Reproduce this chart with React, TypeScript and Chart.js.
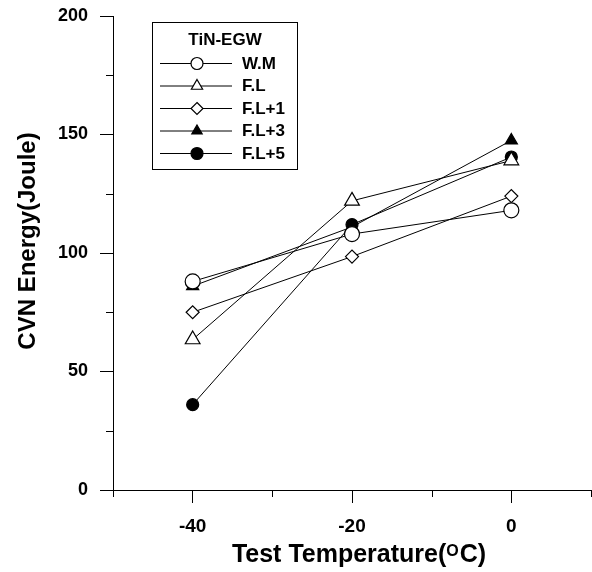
import React, { useEffect, useRef } from "react";
import { Chart, registerables } from "chart.js";

Chart.register(...registerables);

const temperatures = [-40, -20, 0];
const seriesNames = ["W.M", "F.L", "F.L+1", "F.L+3", "F.L+5"];
const wmValues = [88, 108, 118];
const flValues = [63.5, 122, 139];
const fl1Values = [75, 98.5, 124];
const fl3Values = [86, 111, 147.5];
const fl5Values = [36, 112, 140.5];
const legendTitle = "TiN-EGW";
const xMajorTicks = [-40, -20, 0];
const yMajorStep = 50;

const FONT = '"Liberation Sans", Arial, sans-serif';

type Marker = { style: string; r: number; filled: boolean; legendR: number };
const markers: Marker[] = [
  { style: "circle", r: 7.5, filled: false, legendR: 6 },
  { style: "triangle", r: 8.5, filled: false, legendR: 6.5 },
  { style: "rectRot", r: 6.5, filled: false, legendR: 6 },
  { style: "triangle", r: 7, filled: true, legendR: 6 },
  { style: "circle", r: 6, filled: true, legendR: 6 },
];

function drawMarker(ctx: CanvasRenderingContext2D, m: Marker, x: number, y: number, r: number) {
  ctx.save();
  ctx.beginPath();
  if (m.style === "circle") {
    ctx.arc(x, y, r, 0, Math.PI * 2);
  } else if (m.style === "triangle") {
    for (let i = 0; i < 3; i++) {
      const a = (i * 2 * Math.PI) / 3;
      const px = x + Math.sin(a) * r;
      const py = y - Math.cos(a) * r;
      if (i === 0) ctx.moveTo(px, py);
      else ctx.lineTo(px, py);
    }
    ctx.closePath();
  } else {
    ctx.moveTo(x, y - r);
    ctx.lineTo(x + r, y);
    ctx.lineTo(x, y + r);
    ctx.lineTo(x - r, y);
    ctx.closePath();
  }
  ctx.fillStyle = m.filled ? "#000" : "#fff";
  ctx.fill();
  ctx.lineWidth = 1.2;
  ctx.strokeStyle = "#000";
  ctx.stroke();
  ctx.restore();
}

const extrasPlugin = {
  id: "extras",
  afterDraw(chart: any) {
    const ctx: CanvasRenderingContext2D = chart.ctx;
    const xs = chart.scales.x;
    const ys = chart.scales.y;
    const area = chart.chartArea;
    ctx.save();
    // minor tick marks
    ctx.strokeStyle = "#000";
    ctx.lineWidth = 1;
    for (const v of [-50, -30, -10, 10]) {
      const px = Math.round(xs.getPixelForValue(v)) + 0.5;
      ctx.beginPath();
      ctx.moveTo(px, area.bottom);
      ctx.lineTo(px, area.bottom + 7);
      ctx.stroke();
    }
    for (let v = 25; v < 200; v += 50) {
      const py = Math.round(ys.getPixelForValue(v)) + 0.5;
      ctx.beginPath();
      ctx.moveTo(area.left, py);
      ctx.lineTo(area.left - 7, py);
      ctx.stroke();
    }

    // y title
    ctx.fillStyle = "#000";
    ctx.font = `bold 24px ${FONT}`;
    ctx.textAlign = "center";
    ctx.textBaseline = "middle";
    ctx.save();
    ctx.translate(28, 241);
    ctx.rotate(-Math.PI / 2);
    ctx.fillText("CVN Energy(Joule)", 0, 0);
    ctx.restore();

    // x title with superscript O
    const part1 = "Test Temperature(";
    const sup = "O";
    const part2 = "C)";
    ctx.textAlign = "left";
    ctx.textBaseline = "alphabetic";
    ctx.font = `bold 25px ${FONT}`;
    const w1 = ctx.measureText(part1).width;
    const w3 = ctx.measureText(part2).width;
    ctx.font = `bold 16px ${FONT}`;
    const w2 = ctx.measureText(sup).width + 1;
    const total = w1 + w2 + w3;
    let sx = 359 - total / 2;
    const base = 562;
    ctx.font = `bold 25px ${FONT}`;
    ctx.fillText(part1, sx, base);
    sx += w1;
    ctx.font = `bold 16px ${FONT}`;
    ctx.fillText(sup, sx, base - 6);
    sx += w2;
    ctx.font = `bold 25px ${FONT}`;
    ctx.fillText(part2, sx, base);

    // legend box
    const bx = 152.5, by = 22.5, bw = 145, bh = 147;
    ctx.fillStyle = "#fff";
    ctx.fillRect(bx, by, bw, bh);
    ctx.strokeStyle = "#000";
    ctx.lineWidth = 1;
    ctx.strokeRect(bx, by, bw, bh);
    ctx.fillStyle = "#000";
    ctx.font = `bold 17px ${FONT}`;
    ctx.textAlign = "center";
    ctx.textBaseline = "middle";
    ctx.fillText(legendTitle, bx + bw / 2, 40);
    ctx.textAlign = "left";
    seriesNames.forEach((name, i) => {
      const ry = 63 + i * 22.5;
      ctx.beginPath();
      ctx.moveTo(160, ry + 0.5);
      ctx.lineTo(232, ry + 0.5);
      ctx.strokeStyle = "#000";
      ctx.lineWidth = 1;
      ctx.stroke();
      drawMarker(ctx, markers[i], 197, ry + 0.5, markers[i].legendR);
      ctx.fillStyle = "#000";
      ctx.font = `bold 17px ${FONT}`;
      ctx.fillText(name, 242, ry + 1);
    });
    ctx.restore();
  },
};

export default function App() {
  const ref = useRef<HTMLCanvasElement | null>(null);
  useEffect(() => {
    if (!ref.current) return;
    const allValues = [wmValues, flValues, fl1Values, fl3Values, fl5Values];
    const datasets = allValues.map((vals, i) => ({
      label: seriesNames[i],
      data: temperatures.map((t, j) => ({ x: t, y: vals[j] })),
      borderColor: "#000",
      borderWidth: 1,
      pointStyle: markers[i].style,
      pointRadius: markers[i].r,
      pointHoverRadius: markers[i].r,
      pointBackgroundColor: markers[i].filled ? "#000" : "#fff",
      pointBorderColor: "#000",
      pointBorderWidth: 1.2,
      fill: false,
      tension: 0,
      clip: false as any,
    }));
    const chart = new Chart(ref.current, {
      type: "line",
      data: { datasets },
      options: {
        animation: false,
        responsive: true,
        maintainAspectRatio: false,
        events: [],
        layout: { autoPadding: false, padding: { left: 0, right: 1, top: 16, bottom: 0 } },
        plugins: { legend: { display: false }, tooltip: { enabled: false } },
        scales: {
          x: {
            type: "linear",
            min: -50,
            max: 10,
            afterFit: (s: any) => {
              s.height = 82;
              s.paddingLeft = 0;
              s.paddingRight = 0;
            },
            ticks: {
              stepSize: 10,
              padding: 12,
              color: "#000",
              font: { family: FONT, size: 19, weight: "bold" },
              maxRotation: 0,
              autoSkip: false,
              callback: (v: any) => (xMajorTicks.includes(Number(v)) ? String(v) : ""),
            },
            grid: {
              drawOnChartArea: false,
              drawTicks: true,
              tickLength: 13,
              tickColor: (c: any) =>
                c.tick && xMajorTicks.includes(c.tick.value) ? "#000" : "rgba(0,0,0,0)",
            },
            border: { display: true, color: "#000", width: 1 },
          },
          y: {
            type: "linear",
            min: 0,
            max: 200,
            afterFit: (s: any) => {
              s.width = 113;
              s.paddingTop = 0;
              s.paddingBottom = 0;
            },
            ticks: {
              stepSize: 25,
              padding: 12,
              color: "#000",
              font: { family: FONT, size: 18, weight: "bold" },
              autoSkip: false,
              callback: (v: any) => (Number(v) % yMajorStep === 0 ? String(v) : ""),
            },
            grid: {
              drawOnChartArea: false,
              drawTicks: true,
              tickLength: 13,
              tickColor: (c: any) =>
                c.tick && c.tick.value % yMajorStep === 0 ? "#000" : "rgba(0,0,0,0)",
            },
            border: { display: true, color: "#000", width: 1 },
          },
        },
      },
      plugins: [extrasPlugin],
    });
    return () => chart.destroy();
  }, []);
  return (
    <div style={{ position: "absolute", left: 0, top: 0, width: 592, height: 572, background: "#fff" }}>
      <canvas ref={ref} style={{ display: "block" }} />
    </div>
  );
}
